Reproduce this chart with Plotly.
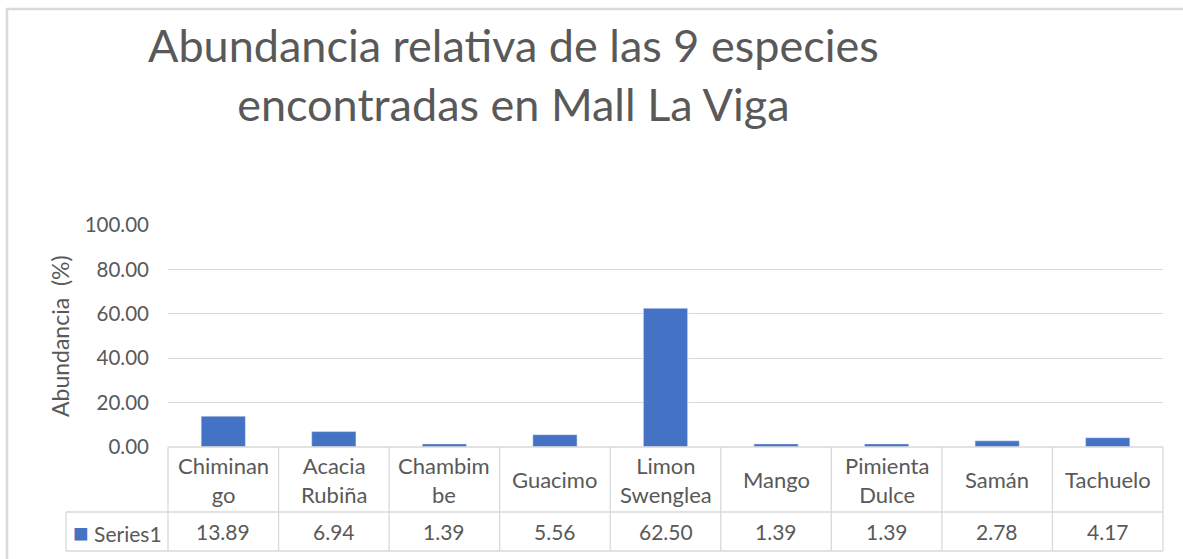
import plotly.graph_objects as go

# ---- data ----
categories = ["Chiminango", "Acacia Rubiña", "Chambimbe", "Guacimo", "Limon Swenglea",
              "Mango", "Pimienta Dulce", "Samán", "Tachuelo"]
table_labels = ["Chiminan<br>go", "Acacia<br>Rubiña", "Chambim<br>be", "Guacimo", "Limon<br>Swenglea",
                "Mango", "Pimienta<br>Dulce", "Samán", "Tachuelo"]
values = [13.89, 6.94, 1.39, 5.56, 62.50, 1.39, 1.39, 2.78, 4.17]
series_name = "Series1"
y_ticks = [0, 20, 40, 60, 80, 100]
title_text = "Abundancia relativa de las 9 especies<br>encontradas en Mall La Viga"
y_title = "Abundancia  (%)"

# ---- style / layout ----
W, H = 1183, 559
ML, MR, MT, MB = 168, 20, 225, 112
PW, PH = W - ML - MR, H - MT - MB
BAR = "#4472C4"
TXT = "#595959"
GRID = "#D9D9D9"
FONT = "Lato, Open Sans, sans-serif"


def px_y(py):  # pixel y -> paper y
    return (H - MB - py) / PH


def px_x(px):  # pixel x -> paper x
    return (px - ML) / PW


fig = go.Figure()
fig.add_trace(go.Bar(x=categories, y=values, name=series_name, marker_color=BAR,
                     width=0.4, showlegend=False))

row1_bot = px_y(512)
row2_bot = px_y(551)
leg_left = px_x(66)
n = len(categories)
line = dict(color=GRID, width=1.3)
shapes = []
# horizontal table lines
shapes.append(dict(type="line", xref="paper", yref="paper", x0=0, x1=1, y0=0, y1=0, line=line))
shapes.append(dict(type="line", xref="paper", yref="paper", x0=leg_left, x1=1, y0=row1_bot, y1=row1_bot, line=line))
shapes.append(dict(type="line", xref="paper", yref="paper", x0=leg_left, x1=1, y0=row2_bot, y1=row2_bot, line=line))
# vertical table lines
for k in range(n + 1):
    shapes.append(dict(type="line", xref="paper", yref="paper", x0=k / n, x1=k / n, y0=0, y1=row2_bot, line=line))
shapes.append(dict(type="line", xref="paper", yref="paper", x0=leg_left, x1=leg_left, y0=row1_bot, y1=row2_bot, line=line))
# chart outer border
shapes.append(dict(type="rect", xref="paper", yref="paper", x0=px_x(7), x1=px_x(W + 20),
                   y0=px_y(H + 20), y1=px_y(9), line=dict(color=GRID, width=2.5)))

annotations = []
for cat, lab, v in zip(categories, table_labels, values):
    annotations.append(dict(x=cat, xref="x", y=(0 + row1_bot) / 2, yref="paper", text=lab,
                            showarrow=False, font=dict(size=22, color=TXT, family=FONT),
                            xanchor="center", yanchor="middle"))
    annotations.append(dict(x=cat, xref="x", y=(row1_bot + row2_bot) / 2, yref="paper",
                            text=f"{v:.2f}", showarrow=False,
                            font=dict(size=21, color=TXT, family=FONT),
                            xanchor="center", yanchor="middle"))
annotations.append(dict(x=(leg_left + 0) / 2, xref="paper", y=(row1_bot + row2_bot) / 2, yref="paper",
                        text=f"<span style='color:{BAR};font-size:26px'>■</span> {series_name}", showarrow=False,
                        font=dict(size=21, color=TXT, family=FONT), xanchor="center", yanchor="middle"))
annotations.append(dict(x=px_x(60), xref="paper", y=0.5, yref="paper", text=y_title, textangle=-90,
                        showarrow=False, font=dict(size=23, color=TXT, family=FONT),
                        xanchor="center", yanchor="middle"))
# chart title
annotations.append(dict(x=px_x(513), xref="paper", y=px_y(74), yref="paper", text=title_text,
                        showarrow=False, font=dict(size=45, color=TXT, family=FONT),
                        xanchor="center", yanchor="middle"))

fig.update_layout(
    width=W, height=H,
    margin=dict(l=ML, r=MR, t=MT, b=MB, autoexpand=False),
    paper_bgcolor="white", plot_bgcolor="white",
    xaxis=dict(showticklabels=False, ticks="", showgrid=False, showline=False, zeroline=False,
               range=[-0.5, n - 0.5]),
    yaxis=dict(range=[0, 100], tickvals=y_ticks, tickformat=".2f", showgrid=True, gridcolor=GRID,
               gridwidth=1.3, zeroline=False, showline=False, ticks="", ticklabelstandoff=18,
               tickfont=dict(size=20.5, color=TXT, family=FONT), automargin=False),
    shapes=shapes, annotations=annotations, bargap=0.6,
)

fig.write_html("out.html", config={"displayModeBar": False},
               post_script="document.body.style.margin='0';")
